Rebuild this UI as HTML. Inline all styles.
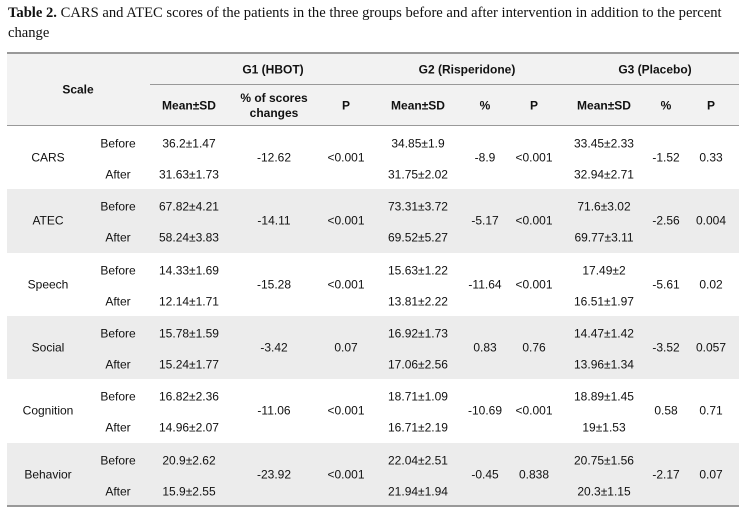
<!DOCTYPE html>
<html><head><meta charset="utf-8"><style>
body{margin:0;width:739px;height:512px;background:#fff;position:relative;overflow:hidden;font-family:"Liberation Sans",sans-serif;color:#111}
.cap{position:absolute;left:8px;top:3px;width:728px;font-family:"Liberation Serif",serif;font-size:14.6px;line-height:20px}
.bg{position:absolute;left:7px;width:732px}
.ln{position:absolute;height:2px;background:#999}
.t{position:absolute;font-size:12px;transform:translate(-50%,-50%);white-space:nowrap;text-align:center;line-height:15px}
.b{font-weight:bold}
</style></head><body>
<div class="cap"><b>Table 2.</b> CARS and ATEC scores of the patients in the three groups before and after intervention in addition to the percent change</div>
<div class="bg" style="top:53px;height:73px;background:#f2f2f2"></div>
<div class="ln" style="left:7px;width:732px;top:52px"></div>
<div class="ln" style="left:150px;width:589px;top:84px;height:1px"></div>
<div class="ln" style="left:7px;width:732px;top:125px;height:1px"></div>
<div id="tbl"></div>
<div class="ln" style="left:7px;width:732px;top:505px"></div>
<script>
const scales=["CARS","ATEC","Speech","Social","Cognition","Behavior"];
const g1Before=["36.2±1.47","67.82±4.21","14.33±1.69","15.78±1.59","16.82±2.36","20.9±2.62"];
const g1After=["31.63±1.73","58.24±3.83","12.14±1.71","15.24±1.77","14.96±2.07","15.9±2.55"];
const g1Pct=["-12.62","-14.11","-15.28","-3.42","-11.06","-23.92"];
const g1P=["<0.001","<0.001","<0.001","0.07","<0.001","<0.001"];
const g2Before=["34.85±1.9","73.31±3.72","15.63±1.22","16.92±1.73","18.71±1.09","22.04±2.51"];
const g2After=["31.75±2.02","69.52±5.27","13.81±2.22","17.06±2.56","16.71±2.19","21.94±1.94"];
const g2Pct=["-8.9","-5.17","-11.64","0.83","-10.69","-0.45"];
const g2P=["<0.001","<0.001","<0.001","0.76","<0.001","0.838"];
const g3Before=["33.45±2.33","71.6±3.02","17.49±2","14.47±1.42","18.89±1.45","20.75±1.56"];
const g3After=["32.94±2.71","69.77±3.11","16.51±1.97","13.96±1.34","19±1.53","20.3±1.15"];
const g3Pct=["-1.52","-2.56","-5.61","-3.52","0.58","-2.17"];
const g3P=["0.33","0.004","0.02","0.057","0.71","0.07"];
const root=document.body;
function txt(s,x,y,cls,name){const d=document.createElement('div');d.className='t '+(cls||'');d.style.left=x+'px';d.style.top=y+'px';d.textContent=s;


root.appendChild(d);return d;}
txt("Scale",78,90,'b','scale-header');
txt("G1 (HBOT)",273,70,'b','g1-header');
txt("G2 (Risperidone)",467,70,'b','g2-header');
txt("G3 (Placebo)",655,70,'b','g3-header');
const sub=[["Mean±SD",189],["% of scores<br>changes",274],["P",346],["Mean±SD",418],["%",485],["P",534],["Mean±SD",604],["%",666],["P",711]];
sub.forEach(([s,x],i)=>{const d=txt('',x,106,'b','subheader-'+i);d.innerHTML=s;});
const rowTop=126,rowH=63.3;
scales.forEach((s,i)=>{
 const y=rowTop+i*rowH;
 if(i%2==1){const bg=document.createElement('div');bg.className='bg';bg.style.top=y+'px';bg.style.height=rowH+'px';bg.style.background='#ececec';
 
 
 root.insertBefore(bg,root.firstChild.nextSibling);}
 const yb=y+18,ya=y+49,ym=y+32;
 txt(s,48,ym,'','scale-'+s.toLowerCase());
 txt("Before",118,yb,'','before-label');
 txt("After",118,ya,'','after-label');
 txt(g1Before[i],189,yb,'','g1-before');txt(g1After[i],189,ya,'','g1-after');
 txt(g1Pct[i],274,ym,'','g1-pct');txt(g1P[i],346,ym,'','g1-p');
 txt(g2Before[i],418,yb,'','g2-before');txt(g2After[i],418,ya,'','g2-after');
 txt(g2Pct[i],485,ym,'','g2-pct');txt(g2P[i],534,ym,'','g2-p');
 txt(g3Before[i],604,yb,'','g3-before');txt(g3After[i],604,ya,'','g3-after');
 txt(g3Pct[i],666,ym,'','g3-pct');txt(g3P[i],711,ym,'','g3-p');
});
</script>
</body></html>
